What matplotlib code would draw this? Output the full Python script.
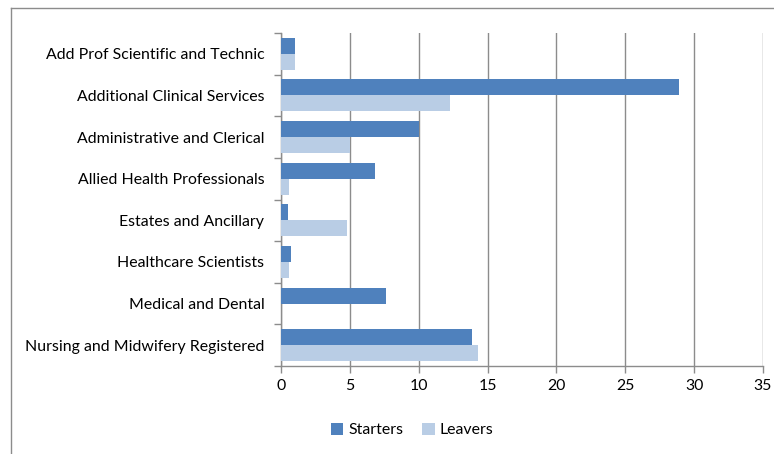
import matplotlib
matplotlib.use('Agg')
import matplotlib.pyplot as plt
from matplotlib.lines import Line2D
import numpy as np

plt.rcParams['font.family'] = ['Lato', 'DejaVu Sans']

categories = ['Add Prof Scientific and Technic', 'Additional Clinical Services',
              'Administrative and Clerical', 'Allied Health Professionals',
              'Estates and Ancillary', 'Healthcare Scientists',
              'Medical and Dental', 'Nursing and Midwifery Registered']
starters = [1.0, 28.9, 10.0, 6.8, 0.5, 0.7, 7.6, 13.9]
leavers = [1.0, 12.3, 5.0, 0.6, 4.8, 0.6, 0.0, 14.3]
xticks = [0, 5, 10, 15, 20, 25, 30, 35]

grey = '#8c8c8c'
fig = plt.figure(figsize=(7.74, 4.54), dpi=100)
ax = fig.add_axes([281 / 774, 1 - 366 / 454, (763 - 281) / 774, (366 - 33) / 454])

y = np.arange(len(categories))
h = 0.385
ax.barh(y - h / 2, starters, height=h, color='#4f81bd', label='Starters', zorder=3)
ax.barh(y + h / 2, leavers, height=h, color='#b9cde5', label='Leavers', zorder=3)

ax.set_ylim(len(categories) - 0.5, -0.5)
ax.set_xlim(0, 35)
ax.set_xticks(xticks)
ax.set_yticks(y)
ax.set_yticklabels(categories)
ax.set_yticks(np.arange(len(categories) + 1) - 0.5, minor=True)
ax.tick_params(axis='y', which='major', length=0, pad=12, labelsize=11.4)
ax.tick_params(axis='y', which='minor', length=5, color=grey, width=1)
ax.tick_params(axis='x', length=5, color=grey, width=1, labelsize=11.4, pad=4)
ax.grid(axis='x', color=grey, linewidth=1, zorder=0)
for side in ['top', 'right']:
    ax.spines[side].set_visible(False)
for side in ['left', 'bottom']:
    ax.spines[side].set_color(grey)
    ax.spines[side].set_linewidth(1)

fig.legend(loc='center', bbox_to_anchor=(412 / 774, 1 - 430 / 454), ncol=2,
           frameon=False, fontsize=11.4, handlelength=0.8, handleheight=0.8,
           handletextpad=0.3, columnspacing=1.2)

# outer chart border, open at the right and bottom
fig.add_artist(Line2D([11 / 774, 11 / 774], [0, 1 - 8 / 454], color=grey, linewidth=1))
fig.add_artist(Line2D([11 / 774, 1], [1 - 8 / 454, 1 - 8 / 454], color=grey, linewidth=1))

fig.savefig('out.png', dpi=100)
